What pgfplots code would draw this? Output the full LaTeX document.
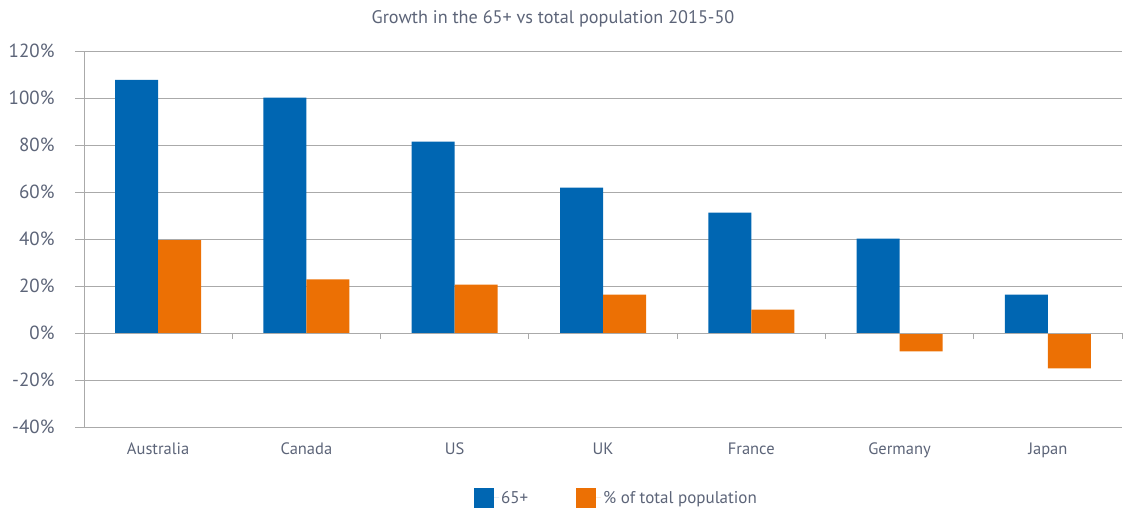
\documentclass[border=0pt]{standalone}
\usepackage{pgfplots}
\pgfplotsset{compat=1.18}
\usepackage{fontspec}
\setmainfont{PT Sans}
\definecolor{barblue}{RGB}{0,102,178}
\definecolor{barorange}{RGB}{236,112,4}
\definecolor{gridgrey}{RGB}{170,170,170}
\definecolor{txtgrey}{RGB}{92,100,120}
\begin{document}
\begin{tikzpicture}[x=1pt,y=1pt]
\path (0,0) rectangle (1129,508);
\node[font=\fontsize{18.2}{22}\selectfont, text=txtgrey] at (553,489) {Growth in the 65+ vs total population 2015-50};
\begin{axis}[
  at={(84pt,80.7pt)}, anchor=south west,
  scale only axis, width=1038pt, height=376pt,
  xmin=-0.5, xmax=6.5, ymin=-40, ymax=120,
  ytick={-40,-20,...,120},
  yticklabel={\pgfmathprintnumber{\tick}\%},
  /pgf/number format/assume math mode=true,
  xtick={0,...,6},
  xticklabels={Australia,Canada,US,UK,France,Germany,Japan},
  xtick style={draw=none},
  ytick style={draw=gridgrey, line width=1pt},
  ytick pos=left, tick align=outside, major tick length=9pt,
  ymajorgrids, grid style={draw=gridgrey, line width=1pt},
  axis line style={draw=none},
  tick label style={text=txtgrey},
  xticklabel style={font=\fontsize{16.5}{20}\selectfont, yshift=-3pt},
  yticklabel style={font=\fontsize{19}{22}\selectfont, xshift=-17pt},
  ybar, bar width=43pt,
  clip=false,
  legend columns=2,
  legend style={at={(0.513,-0.188)}, anchor=center, draw=none, fill=none,
    font=\fontsize{17}{20}\selectfont, text=txtgrey,
    /tikz/every even column/.append style={column sep=46pt}},
]
\addplot[fill=barblue, draw=none, bar shift=-21.5pt,
  legend image code/.code={\fill[barblue] (0pt,-10pt) rectangle (20pt,10pt);\path (0pt,0pt) -- (25pt,0pt);}]
  coordinates {(0,107.8) (1,100.3) (2,81.6) (3,62) (4,51.4) (5,40.3) (6,16.5)};
\addlegendentry{65+}
\addplot[fill=barorange, draw=none, bar shift=21.5pt,
  legend image code/.code={\fill[barorange] (0pt,-10pt) rectangle (20pt,10pt);\path (0pt,0pt) -- (25pt,0pt);}]
  coordinates {(0,39.6) (1,22.9) (2,20.7) (3,16.5) (4,10.1) (5,-7.7) (6,-14.9)};
\addlegendentry{\% of total population}
\draw[gridgrey, line width=1pt] (rel axis cs:0,0) -- (rel axis cs:0,1);
\draw[gridgrey, line width=1pt] (axis cs:-0.5,0) -- (axis cs:6.5,0);
\pgfplotsinvokeforeach{-0.5,0.5,1.5,2.5,3.5,4.5,5.5,6.5}{
  \draw[gridgrey, line width=1pt] (axis cs:#1,0) -- ([yshift=-6pt]axis cs:#1,0);
}
\end{axis}
\end{tikzpicture}
\end{document}
